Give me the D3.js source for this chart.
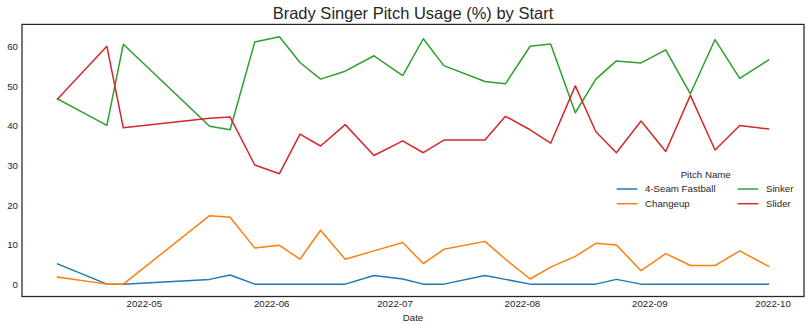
<!DOCTYPE html>
<html>
<head>
<meta charset="utf-8">
<script src="https://cdn.jsdelivr.net/npm/d3@7"></script>
<style>
  html, body { margin: 0; padding: 0; background: #ffffff; }
  svg { display: block; font-family: "Liberation Sans", Arial, sans-serif; }
</style>
</head>
<body>
<svg id="chart" width="810" height="331"></svg>
<script>
// Game dates of each start
const dates = ["2022-04-10","2022-04-22","2022-04-26","2022-05-17","2022-05-22","2022-05-28",
  "2022-06-03","2022-06-08","2022-06-13","2022-06-19","2022-06-26","2022-07-03","2022-07-08",
  "2022-07-13","2022-07-23","2022-07-28","2022-08-03","2022-08-08","2022-08-14","2022-08-19",
  "2022-08-24","2022-08-30","2022-09-05","2022-09-11","2022-09-17","2022-09-23","2022-09-30"];

// Usage share (%) per pitch type
const fastball = [5.1,0,0,1.2,2.3,0,0,0,0,0,2.2,1.3,0,0,2.2,1.2,0,0,0,0,1.2,0,0,0,0,0,0];
const changeup = [1.8,0,0,17.3,16.9,9.1,9.8,6.3,13.6,6.3,8.4,10.5,5.2,8.8,10.8,6.3,1.3,4.3,7.0,10.3,9.9,3.4,7.7,4.7,4.7,8.4,4.5];
const sinker   = [46.8,40.1,60.6,39.9,39.0,61.2,62.5,56.0,51.8,53.8,57.7,52.7,62.0,55.2,51.2,50.6,60.1,60.7,43.3,51.8,56.4,55.9,59.2,48.1,61.8,52.0,56.6];
const slider   = [46.8,60.1,39.5,41.9,42.2,30.1,27.9,37.9,34.9,40.3,32.5,36.2,33.2,36.4,36.4,42.4,39.0,35.6,50.1,38.5,33.2,41.2,33.5,47.7,33.9,40.1,39.2];

const pitchNames = ["4-Seam Fastball", "Changeup", "Sinker", "Slider"];
const xTicks = ["2022-05-01","2022-06-01","2022-07-01","2022-08-01","2022-09-01","2022-10-01"];
const yTicks = [0, 10, 20, 30, 40, 50, 60];

const colors = ["#1f77b4", "#ff7f0e", "#2ca02c", "#d62728"];
const seriesValues = [fastball, changeup, sinker, slider];

const parse = d3.utcParse("%Y-%m-%d");
const dayList = dates.map(parse);
const series = pitchNames.map((name, i) => ({
  name, color: colors[i],
  points: dayList.map((d, j) => ({ date: d, value: seriesValues[i][j] }))
}));

const svg = d3.select("#chart");
const plot = { left: 22, right: 804, top: 24.4, bottom: 296.5 };
const ink = "#262626";

// 5% padding on both axes around the data extent
const [d0, d1] = d3.extent(dayList);
const padT = (d1 - d0) * 0.05;
const x = d3.scaleUtc()
  .domain([new Date(+d0 - padT), new Date(+d1 + padT)])
  .range([plot.left, plot.right]);

const allVals = seriesValues.flat();
const vMin = d3.min(allVals), vMax = d3.max(allVals);
const padV = (vMax - vMin) * 0.05;
const y = d3.scaleLinear()
  .domain([vMin - padV, vMax + padV])
  .range([plot.bottom, plot.top]);

// Axes (no tick marks, labels only)
const xAxis = d3.axisBottom(x)
  .tickValues(xTicks.map(parse))
  .tickFormat(d3.utcFormat("%Y-%m"))
  .tickSize(0).tickPadding(4);
const gx = svg.append("g").attr("transform", `translate(0,${plot.bottom})`).call(xAxis);
gx.select(".domain").remove();
gx.selectAll("text").attr("font-size", 9.7).attr("fill", ink).attr("font-family", "Liberation Sans, Arial, sans-serif");

const yAxis = d3.axisLeft(y).tickValues(yTicks).tickSize(0).tickPadding(4);
const gy = svg.append("g").attr("transform", `translate(${plot.left},0)`).call(yAxis);
gy.select(".domain").remove();
gy.selectAll("text").attr("font-size", 9.7).attr("fill", ink).attr("font-family", "Liberation Sans, Arial, sans-serif");

// Lines
const line = d3.line().x(d => x(d.date)).y(d => y(d.value));
svg.append("g").selectAll("path")
  .data(series)
  .join("path")
  .attr("d", d => line(d.points))
  .attr("fill", "none")
  .attr("stroke", d => d.color)
  .attr("stroke-width", 1.5)
  .attr("stroke-linejoin", "round")
  .attr("stroke-linecap", "square");

// Frame
svg.append("rect")
  .attr("x", plot.left).attr("y", plot.top)
  .attr("width", plot.right - plot.left).attr("height", plot.bottom - plot.top)
  .attr("fill", "none").attr("stroke", ink).attr("stroke-width", 1.25);

// Title and axis label
svg.append("text")
  .attr("x", (plot.left + plot.right) / 2).attr("y", 19)
  .attr("text-anchor", "middle").attr("font-size", 16.5).attr("fill", ink)
  .text("Brady Singer Pitch Usage (%) by Start");

svg.append("text")
  .attr("x", (plot.left + plot.right) / 2).attr("y", 321)
  .attr("text-anchor", "middle").attr("font-size", 9.7).attr("fill", ink)
  .text("Date");

// Legend: two columns, no frame
const legend = svg.append("g").attr("font-size", 9.7).attr("fill", ink);
legend.append("text")
  .attr("x", 705.7).attr("y", 177.5)
  .attr("text-anchor", "middle").attr("fill", ink)
  .text("Pitch Name");
const colX = [616.7, 737.7];
const rowY = [189, 203.7];
series.forEach((s, i) => {
  const cx = colX[Math.floor(i / 2)], cy = rowY[i % 2];
  legend.append("line")
    .attr("x1", cx).attr("x2", cx + 20.6)
    .attr("y1", cy).attr("y2", cy)
    .attr("stroke", s.color).attr("stroke-width", 1.5);
  legend.append("text")
    .attr("x", cx + 28.3).attr("y", cy + 3.4)
    .attr("fill", ink)
    .text(s.name);
});
</script>
</body>
</html>
